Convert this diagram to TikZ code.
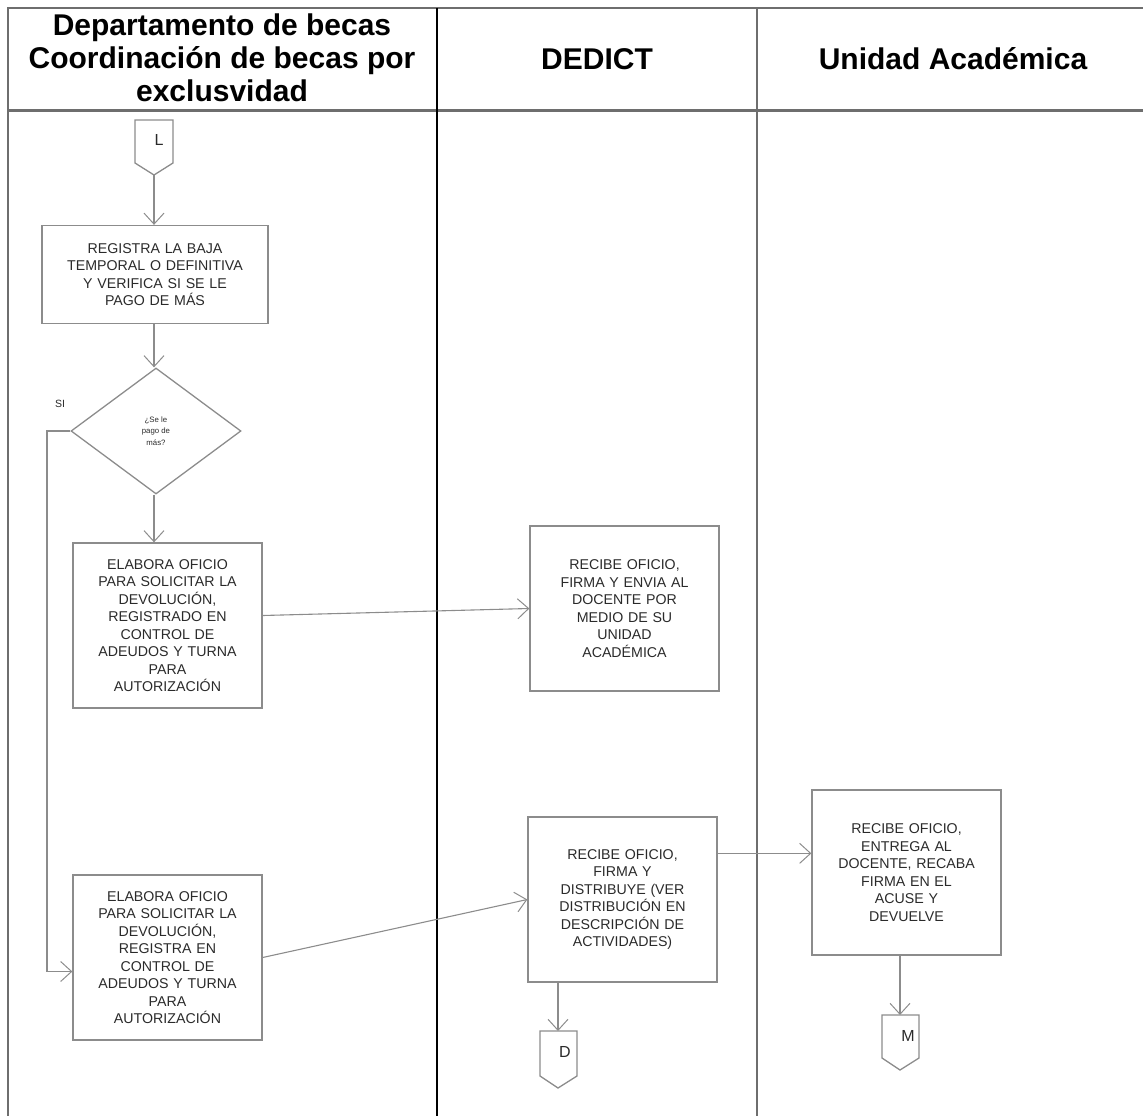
\documentclass[tikz,border=0pt]{standalone}
\usepackage{fontspec}
\setmainfont{Liberation Sans}
\usetikzlibrary{arrows.meta,shapes.geometric,calc}
\definecolor{lgray}{HTML}{8C8C8C}
\definecolor{fgray}{HTML}{6E6E6E}
\definecolor{txt}{HTML}{2A2A2A}
\tikzset{
  procbox/.style={draw=lgray, line width=1.3pt, minimum width=189pt, minimum height=165pt, inner sep=0pt,
    align=center, text width=182pt, text=txt, font=\fontsize{14.2}{17.5}\selectfont},
  flow/.style={draw=lgray, line width=1.1pt, -{Straight Barb[length=11pt,width=20pt,line width=1pt]}},
  conn/.style={draw=lgray, line width=1.3pt},
  conntxt/.style={text=txt, font=\fontsize{16}{16}\selectfont, inner sep=0pt},
  lane/.style={line width=2pt},
  headtxt/.style={font=\fontsize{30}{33}\selectfont\bfseries, align=center, text=black},
}
\begin{document}
\begin{tikzpicture}[x=1pt,y=-1pt]
\useasboundingbox (0,0) rectangle (1143,1116);
% swimlane frame
\draw[lane, fgray] (8,1116) -- (8,8) -- (1143,8);
\draw[line width=3pt, fgray] (8,110) -- (1143,110);
\draw[lane, black] (437,8) -- (437,1116);
\draw[line width=2.6pt, fgray] (757,8) -- (757,1116);
% headers
\node[headtxt] (h1) at (222,58) {Departamento de becas\\Coordinación de becas por\\exclusvidad};
\node[headtxt] (h2) at (597,59) {DEDICT};
\node[headtxt] (h3) at (953,59) {Unidad Académica};
% connector L
\draw[conn] (135,120) -- (173,120) -- (173,163) -- (154,175) -- (135,163) -- cycle;
\node[conntxt] (Ltxt) at (159,140) {L};
\coordinate (Lbot) at (154,175);
% boxes
\node[procbox, minimum width=226pt, minimum height=98pt, text width=220pt] (b1) at (155,274.5)
  {REGISTRA LA BAJA\\TEMPORAL O DEFINITIVA\\Y VERIFICA SI SE LE\\PAGO DE MÁS};
\node[draw=lgray, line width=1.3pt, diamond, minimum width=170pt, minimum height=126pt, inner sep=0pt,
  align=center, text=txt, font=\fontsize{7.8}{11.5}\selectfont] (dia) at (156,431) {¿Se le\\pago de\\más?};
\node[text=txt, font=\fontsize{10.5}{10.5}\selectfont] (si) at (60,404) {SI};
\node[procbox] (b2) at (167.5,625.5)
  {ELABORA OFICIO\\PARA SOLICITAR LA\\DEVOLUCIÓN,\\REGISTRADO EN\\CONTROL DE\\ADEUDOS Y TURNA\\PARA\\AUTORIZACIÓN};
\node[procbox] (b3) at (167.5,957.5)
  {ELABORA OFICIO\\PARA SOLICITAR LA\\DEVOLUCIÓN,\\REGISTRA EN\\CONTROL DE\\ADEUDOS Y TURNA\\PARA\\AUTORIZACIÓN};
\node[procbox] (b4) at (624.5,608.5)
  {RECIBE OFICIO,\\FIRMA Y ENVIA AL\\DOCENTE POR\\MEDIO DE SU\\UNIDAD\\ACADÉMICA};
\node[procbox] (b5) at (622.5,899.5)
  {RECIBE OFICIO,\\FIRMA Y\\DISTRIBUYE (VER\\DISTRIBUCIÓN EN\\DESCRIPCIÓN DE\\ACTIVIDADES)};
\node[procbox] (b6) at (906.5,872.5)
  {RECIBE OFICIO,\\ENTREGA AL\\DOCENTE, RECABA\\FIRMA EN EL\\ACUSE Y\\DEVUELVE};
% connector D
\draw[conn] (540,1031) -- (577,1031) -- (577,1076) -- (558,1088) -- (540,1076) -- cycle;
\node[conntxt] (Dtxt) at (565,1052) {D};
\coordinate (Dtop) at (558,1031);
% connector M
\draw[conn] (882,1015) -- (919,1015) -- (919,1058) -- (900,1070) -- (882,1058) -- cycle;
\node[conntxt] (Mtxt) at (908,1036) {M};
\coordinate (Mtop) at (900,1015);
% flows
\draw[flow] (Lbot) -- (Lbot |- b1.north);
\draw[flow] (Lbot |- b1.south) -- (Lbot |- dia.north);
\draw[flow] (Lbot |- dia.south) -- (Lbot |- b2.north);
\coordinate (siend) at ($(b3.west)+(0,14)$);
\draw[flow] (dia.west) -- (47,431) |- (siend);
\draw[flow] ($(b2.east)+(0,-10)$) -- (b4.west);
\draw[flow] (b3.east) -- (b5.west);
\coordinate (a56) at ($(b5.north east)+(0,37)$);
\draw[flow] (a56) -- (a56 -| b6.west);
\draw[flow] (Dtop |- b5.south) -- (Dtop);
\draw[flow] (Mtop |- b6.south) -- (Mtop);
\end{tikzpicture}
\end{document}
